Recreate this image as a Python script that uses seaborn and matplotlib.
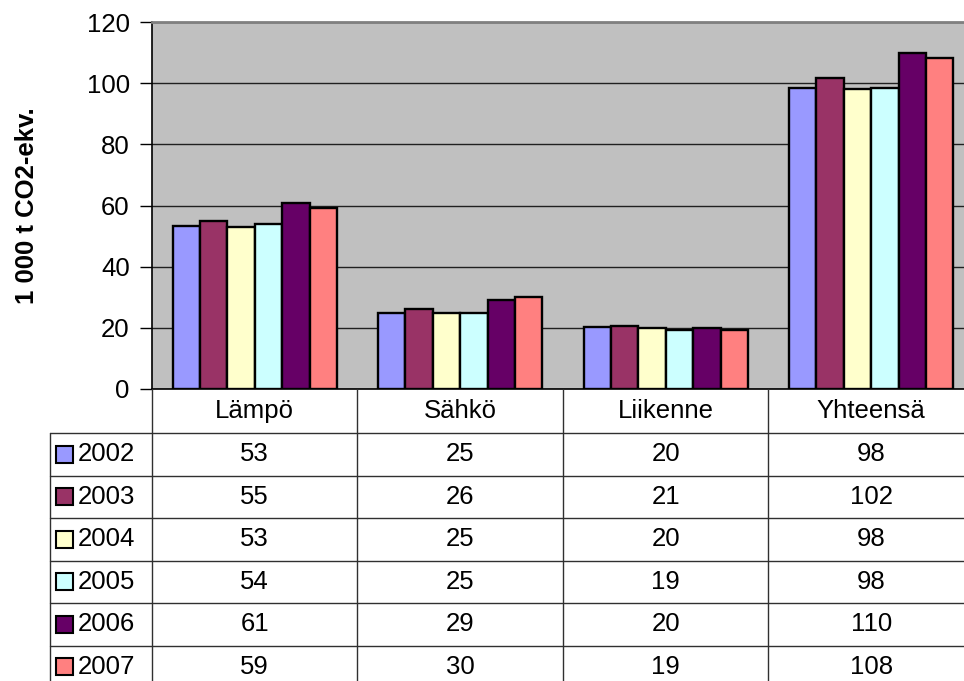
import pandas as pd
import matplotlib.pyplot as plt
import seaborn as sns
from matplotlib.patches import Rectangle

# Datos (1 000 t CO2-ekv.)
kategoriat = ['Lämpö', 'Sähkö', 'Liikenne', 'Yhteensä']
vuodet = ['2002', '2003', '2004', '2005', '2006', '2007']
lampo = [53.2, 55.0, 53.1, 54.0, 60.9, 59.2]
sahko = [25.0, 26.0, 25.0, 25.0, 29.0, 30.0]
liikenne = [20.3, 20.7, 19.9, 19.3, 20.0, 19.2]
yhteensa = [98.3, 101.7, 98.1, 98.3, 110.0, 108.3]
varit = ['#9999FF', '#993366', '#FFFFCC', '#CCFFFF', '#660066', '#FF8080']

sarjat = [lampo, sahko, liikenne, yhteensa]
filas = []
for kat, arvot in zip(kategoriat, sarjat):
    for v, a in zip(vuodet, arvot):
        filas.append({'kategoria': kat, 'vuosi': v, 'arvo': a})
df = pd.DataFrame(filas)

sns.set_style('white')
plt.rcParams['font.family'] = ['Liberation Sans', 'DejaVu Sans']
plt.rcParams['text.color'] = 'black'
plt.rcParams['ytick.color'] = 'black'
plt.rcParams['axes.labelcolor'] = 'black'

fs = 18.5
W, H = 964, 681
fig = plt.figure(figsize=(W / 100, H / 100), dpi=100)

# 1. Gráfico de barras
ax = fig.add_axes([152 / W, 1 - 389 / H, (974 - 152) / W, 367 / H])
ax.set_facecolor('#C0C0C0')
sns.barplot(data=df, x='kategoria', y='arvo', hue='vuosi', order=kategoriat,
            hue_order=vuodet, palette=varit, saturation=1, edgecolor='black',
            linewidth=1.7, width=0.8, legend=False, ax=ax, zorder=3)
ax.set_xlim(-0.5, 3.5)
ax.set_ylim(0, 120)
ax.set_yticks(range(0, 121, 20))
ax.yaxis.grid(True, color='#202020', linewidth=1, zorder=0)
ax.set_axisbelow(True)
ax.set_xticks([])
ax.set_xlabel('')
ax.set_ylabel('1 000 t CO2-ekv.', fontsize=18.5, fontweight='bold', labelpad=34)
ax.tick_params(axis='y', direction='out', length=9, width=1, color='black',
               labelsize=fs, pad=7, left=True)
for s in ['left', 'bottom']:
    ax.spines[s].set_color('black')
    ax.spines[s].set_linewidth(1.2)
ax.spines['top'].set_color('#808080')
ax.spines['top'].set_linewidth(2)
ax.spines['right'].set_visible(False)

# 2. Tabla de datos
tx = fig.add_axes([50 / W, (H - 688) / H, (974 - 50) / W, 299 / H])
tx.set_xlim(-0.996, 3.5)
tx.set_ylim(299, 0)
tx.axis('off')
lc = '#303030'
cab = 44
fila_h = 42.5
for i in range(len(vuodet) + 1):
    yy = cab + fila_h * i
    tx.plot([-0.996, 3.5], [yy, yy], color=lc, lw=1, clip_on=False)
tx.plot([-0.996, -0.996], [cab, 299], color=lc, lw=1, clip_on=False)
for xx in [-0.5, 0.5, 1.5, 2.5]:
    tx.plot([xx, xx], [0, 299], color=lc, lw=1, clip_on=False)

for j, kat in enumerate(kategoriat):
    tx.text(j, cab / 2, kat, ha='center', va='center', fontsize=fs)

for i, (v, c) in enumerate(zip(vuodet, varit)):
    yc = cab + fila_h * (i + 0.5)
    tx.add_patch(Rectangle((-0.966, yc - 8.5), 17 / 205.5, 17,
                           facecolor=c, edgecolor='black', lw=1.5, clip_on=False))
    tx.text(-0.863, yc, v, ha='left', va='center', fontsize=fs)
    for j, arvot in enumerate(sarjat):
        tx.text(j, yc, f'{round(arvot[i])}', ha='center', va='center', fontsize=fs)

fig.savefig('out.png', dpi=100)
